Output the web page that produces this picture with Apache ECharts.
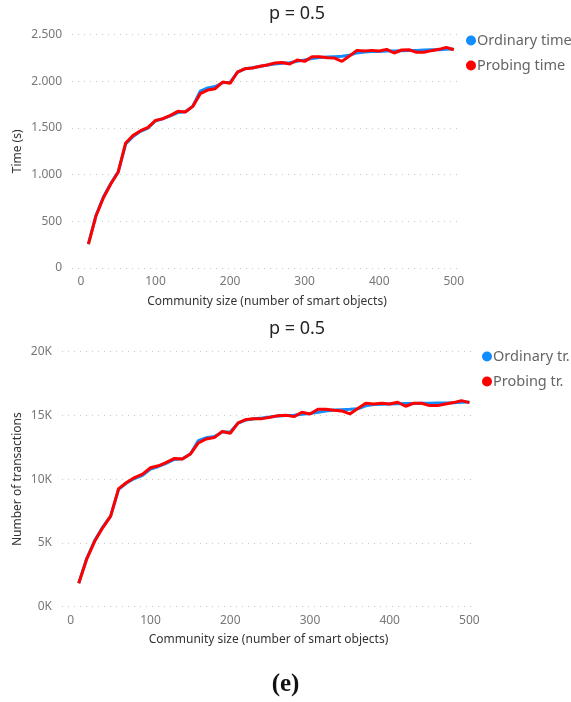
<!DOCTYPE html>
<html>
<head>
<meta charset="utf-8">
<script src="https://cdn.jsdelivr.net/npm/echarts@6/dist/echarts.min.js"></script>
<style>
  html, body { margin: 0; padding: 0; background: #fff; }
  #chart { width: 571px; height: 702px; }
</style>
</head>
<body>
<div id="chart"></div>
<script>
// Community sizes (number of smart objects)
const communitySizes = [10, 20, 30, 40, 50, 60, 70, 80, 90, 100,
  110, 120, 130, 140, 150, 160, 170, 180, 190, 200,
  210, 220, 230, 240, 250, 260, 270, 280, 290, 300,
  310, 320, 330, 340, 350, 360, 370, 380, 390, 400,
  410, 420, 430, 440, 450, 460, 470, 480, 490, 500];

// Execution time (s)
const ordinaryTime = [257, 560, 760, 905, 1030, 1330, 1410, 1465, 1500, 1575,
  1600, 1630, 1665, 1675, 1735, 1895, 1930, 1945, 1985, 1990,
  2100, 2135, 2145, 2160, 2175, 2185, 2195, 2200, 2215, 2230,
  2245, 2255, 2260, 2265, 2270, 2280, 2305, 2315, 2320, 2320,
  2325, 2325, 2328, 2330, 2332, 2335, 2338, 2340, 2345, 2348];
const probingTime = [257, 554, 750, 900, 1029, 1340, 1421, 1471, 1507, 1582,
  1600, 1636, 1679, 1671, 1732, 1868, 1907, 1921, 1993, 1979,
  2100, 2136, 2143, 2161, 2175, 2196, 2203, 2186, 2229, 2214,
  2264, 2264, 2254, 2250, 2214, 2271, 2332, 2325, 2332, 2325,
  2343, 2304, 2336, 2339, 2311, 2311, 2329, 2343, 2364, 2339];

// Number of transactions
const ordinaryTr = [1842, 3780, 5200, 6250, 7105, 9200, 9700, 10050, 10300, 10800,
  11000, 11250, 11550, 11600, 11974, 13026, 13250, 13350, 13700, 13700,
  14400, 14650, 14737, 14800, 14880, 14950, 15000, 15020, 15100, 15150,
  15250, 15350, 15420, 15450, 15480, 15520, 15750, 15850, 15880, 15900,
  15920, 15930, 15940, 15950, 15960, 15970, 15980, 16000, 16040, 16060];
const probingTr = [1842, 3737, 5132, 6184, 7105, 9263, 9737, 10132, 10395, 10895,
  11053, 11316, 11632, 11579, 11974, 12842, 13158, 13263, 13737, 13605,
  14421, 14684, 14737, 14750, 14855, 14985, 15012, 14907, 15248, 15117,
  15484, 15484, 15405, 15353, 15117, 15536, 15955, 15903, 15955, 15903,
  16034, 15720, 15955, 15955, 15772, 15772, 15903, 16008, 16165, 16008];

const timeTicks = [0, 500, 1000, 1500, 2000, 2500];
const trTicks = [0, 5000, 10000, 15000, 20000];

const FONT = '"Noto Sans", "Open Sans", sans-serif';
const BLUE = '#118DFF';
const RED = '#FF0000';

function pairs(xs, ys) { return xs.map((x, i) => [x, ys[i]]); }

function xAxisCfg(gridIndex, min, max, nameGap) {
  return {
    type: 'value', gridIndex, min, max,
    name: 'Community size (number of smart objects)',
    nameLocation: 'middle', nameGap, nameMoveOverlap: false,
    nameTextStyle: { color: '#333', fontSize: 12, fontFamily: FONT },
    axisLine: { show: false }, axisTick: { show: false }, splitLine: { show: false },
    axisLabel: {
      color: '#777', fontSize: 12, fontFamily: FONT, margin: 8,
      formatter: v => (v >= 0 && v % 100 === 0) ? String(v) : ''
    }
  };
}

function yAxisCfg(gridIndex, ticks, name, nameGap, fmt) {
  return {
    type: 'value', gridIndex,
    min: ticks[0], max: ticks[ticks.length - 1], interval: ticks[1] - ticks[0],
    name, nameLocation: 'middle', nameGap, nameMoveOverlap: false,
    nameTextStyle: { color: '#333', fontSize: 12, fontFamily: FONT },
    axisLine: { show: false }, axisTick: { show: false },
    splitLine: { show: true, lineStyle: { color: '#c8c8c8', type: [1, 5], width: 1 } },
    axisLabel: { color: '#777', fontSize: 12, fontFamily: FONT, margin: 10, formatter: fmt }
  };
}

function lineSeries(name, data, color, xi, yi) {
  return {
    type: 'line', name, data, xAxisIndex: xi, yAxisIndex: yi,
    showSymbol: false, symbol: 'circle', lineStyle: { color, width: 3 },
    itemStyle: { color }, emphasis: { disabled: true }, animation: false
  };
}

function legendCfg(left, top, names) {
  return {
    orient: 'vertical', left, top, data: names, icon: 'circle',
    itemWidth: 10, itemHeight: 10, itemGap: 8,
    textStyle: { color: '#666', fontSize: 14.5, fontFamily: FONT, lineHeight: 17, padding: [0, 0, 0, -4] }
  };
}

const chart = echarts.init(document.getElementById('chart'), null, { renderer: 'canvas' });
chart.setOption({
  backgroundColor: '#fff',
  animation: false,
  title: [
    { text: 'p = 0.5', left: 264, top: 0,
      textStyle: { color: '#252423', fontSize: 18, fontWeight: 'normal', fontFamily: FONT } },
    { text: 'p = 0.5', left: 264, top: 315,
      textStyle: { color: '#252423', fontSize: 18, fontWeight: 'normal', fontFamily: FONT } },
    { text: '(e)', left: 'center', top: 667,
      textStyle: { color: '#111', fontSize: 25, fontWeight: 'bold', fontFamily: '"Liberation Serif", "DejaVu Serif", serif' } }
  ],
  legend: [
    legendCfg(461, 27, ['Ordinary time', 'Probing time']),
    legendCfg(477, 343, ['Ordinary tr.', 'Probing tr.'])
  ],
  grid: [
    { left: 72, top: 34.7, width: 390, height: 233.3 },
    { left: 62, top: 351.7, width: 413, height: 255 }
  ],
  xAxis: [xAxisCfg(0, -12, 511, 28), xAxisCfg(1, -11, 507, 27)],
  yAxis: [
    yAxisCfg(0, timeTicks, 'Time (s)', 48,
      v => v.toLocaleString('en-US').replace(/,/g, '.')),
    yAxisCfg(1, trTicks, 'Number of transactions', 38, v => (v / 1000) + 'K')
  ],
  series: [
    lineSeries('Ordinary time', pairs(communitySizes, ordinaryTime), BLUE, 0, 0),
    lineSeries('Probing time', pairs(communitySizes, probingTime), RED, 0, 0),
    lineSeries('Ordinary tr.', pairs(communitySizes, ordinaryTr), BLUE, 1, 1),
    lineSeries('Probing tr.', pairs(communitySizes, probingTr), RED, 1, 1)
  ]
});
</script>
</body>
</html>
